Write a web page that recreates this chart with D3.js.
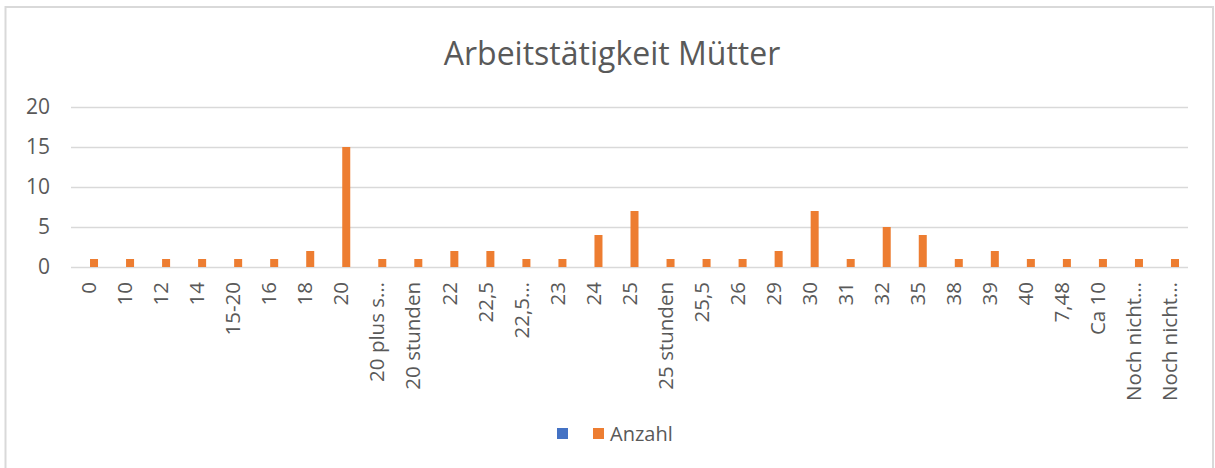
<!DOCTYPE html>
<html>
<head>
<meta charset="utf-8">
<script src="https://cdn.jsdelivr.net/npm/d3@7"></script>
<style>
    body { margin: 0; background: #fff; }
    svg { display: block; font-family: "Open Sans", sans-serif; }
</style>
</head>
<body>
<svg id="chart" width="1215" height="468"></svg>
<script>
// categories as they show on the axis (Excel cut the long ones)
var categories = ["0", "10", "12", "14", "15-20", "16", "18", "20", "20 plus s\u2026", "20 stunden",
    "22", "22,5", "22,5\u2026", "23", "24", "25", "25 stunden", "25,5", "26", "29",
    "30", "31", "32", "35", "38", "39", "40", "7,48", "Ca 10", "Noch nicht\u2026", "Noch nicht\u2026"];
var anzahl = [1, 1, 1, 1, 1, 1, 2, 15, 1, 1,
    2, 2, 1, 1, 4, 7, 1, 1, 1, 2,
    7, 1, 5, 4, 1, 2, 1, 1, 1, 1, 1];
// first series has a name-less entry and no values
var leer = categories.map(function() { return null; });
var seriesNames = ["", "Anzahl"];
var seriesColors = ["#4472c4", "#ed7d31"];
var yTicks = [0, 5, 10, 15, 20];
var title = "Arbeitst\u00e4tigkeit M\u00fctter";

var margin = { top: 107, left: 71, right: 27 },
    width = 1215 - margin.left - margin.right,
    height = 160,
    svg = d3.select('#chart'),
    textColor = '#595959',
    gridColor = '#d9d9d9';

// outer frame of the chart object
svg.append('rect')
    .attr('x', 5.5).attr('y', 7)
    .attr('width', 1207.5).attr('height', 480)
    .attr('fill', 'none')
    .attr('stroke', gridColor)
    .attr('stroke-width', 2)

svg.append('text')
    .attr('x', 612).attr('y', 65)
    .attr('text-anchor', 'middle')
    .attr('font-size', 32)
    .attr('fill', textColor)
    .text(title)

var chartArea = svg.append('g')
    .attr('transform', 'translate(' + margin.left + ',' + margin.top + ')')

var x = d3.scaleBand().domain(d3.range(categories.length)).range([0, width]).padding(0)
var x1 = d3.scaleBand().domain(seriesNames).range([0, x.bandwidth()])
    .paddingInner(0.2).paddingOuter(0.9)
var y = d3.scaleLinear().domain([0, 20]).range([height, 0])

// gridlines
chartArea.append('g')
    .selectAll('line')
    .data(yTicks)
    .enter().append('line')
    .attr('x1', 0).attr('x2', width)
    .attr('y1', d => Math.round(y(d)) + 0.5).attr('y2', d => Math.round(y(d)) + 0.5)
    .attr('stroke', gridColor)
    .attr('stroke-width', 1.5)

var yAxis = d3.axisLeft(y).tickValues(yTicks).tickSize(0).tickPadding(21)
var yAxisCall = chartArea.append('g').call(yAxis)
yAxisCall.select('.domain').remove()
yAxisCall.selectAll('text')
    .attr('font-size', 21)
    .attr('font-family', '"Open Sans", sans-serif')
    .attr('fill', textColor)

// x labels, rotated
var xAxis = d3.axisBottom(x).tickFormat(i => categories[i]).tickSize(0)
var xAxisCall = chartArea.append('g')
    .attr('transform', 'translate(0,' + height + ')')
    .call(xAxis)
xAxisCall.select('.domain').remove()
xAxisCall.selectAll('text')
    .attr('font-size', 20.5)
    .attr('font-family', '"Open Sans", sans-serif')
    .attr('fill', textColor)
    .attr('transform', 'rotate(-90)')
    .attr('x', -15)
    .attr('y', 0)
    .attr('dy', '0.35em')
    .attr('text-anchor', 'end')

var seriesData = [leer, anzahl]

seriesData.forEach(function(values, s) {
    chartArea.append('g')
        .selectAll('rect')
        .data(values.map((v, i) => ({ i: i, v: v })).filter(d => d.v !== null))
        .enter().append('rect')
        .attr('x', d => x(d.i) + x1(seriesNames[s]))
        .attr('width', x1.bandwidth())
        .attr('y', d => y(d.v))
        .attr('height', d => height - y(d.v))
        .attr('fill', seriesColors[s])
})

// legend
var legend = svg.append('g').attr('transform', 'translate(557,428)')
var items = legend.selectAll('g')
    .data(seriesNames)
    .enter().append('g')
    .attr('transform', (d, i) => 'translate(' + (i * 36) + ',0)')
items.append('rect')
    .attr('width', 11).attr('height', 11)
    .attr('fill', (d, i) => seriesColors[i])
items.append('text')
    .attr('x', 17).attr('y', 5.5)
    .attr('dy', '0.35em')
    .attr('font-size', 20)
    .attr('fill', textColor)
    .text(d => d)
</script>
</body>
</html>
